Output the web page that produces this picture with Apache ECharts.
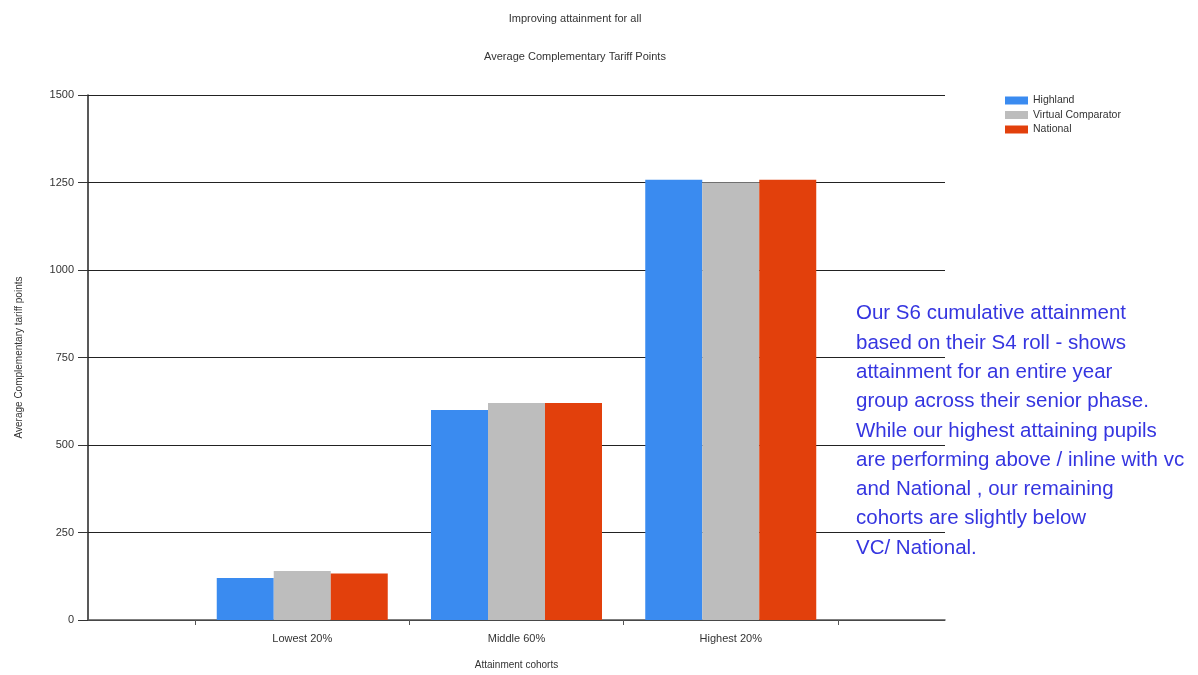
<!DOCTYPE html>
<html>
<head>
<meta charset="utf-8">
<script src="https://cdn.jsdelivr.net/npm/echarts@6/dist/echarts.min.js"></script>
<style>html,body{margin:0;padding:0;background:#fff;}#c{width:1198px;height:675px;}</style>
</head>
<body>
<div id="c"></div>
<script>
const categories = ['Lowest 20%', 'Middle 60%', 'Highest 20%'];
const highland = [120, 600, 1258];
const virtualComparator = [140, 620, 1250];
const national = [133, 620, 1258];
const yTicks = [0, 250, 500, 750, 1000, 1250, 1500];
const noteLines = [
  'Our S6 cumulative attainment',
  'based on their S4 roll - shows',
  'attainment for an entire year',
  'group across their senior phase.',
  'While our highest attaining pupils',
  'are performing above / inline with vc',
  'and National , our remaining',
  'cohorts are slightly below',
  'VC/ National.'
];

// Half-step slots so ticks fall between cohorts and half-empty slots at the ends
const slots = ['', ''];
categories.forEach(c => { slots.push(c); slots.push(''); });
slots.push('');
function spread(arr) {
  const out = [null, null];
  arr.forEach(v => { out.push(v); out.push(null); });
  out.push(null);
  return out;
}

const chart = echarts.init(document.getElementById('c'));
const font = 'Liberation Sans, Arial, sans-serif';
chart.setOption({
  animation: false,
  textStyle: { fontFamily: font },
  title: [
    { text: 'Improving attainment for all', left: 570, top: 8, textAlign: 'center',
      textStyle: { fontSize: 11, fontWeight: 'normal', color: '#333' } },
    { text: 'Average Complementary Tariff Points', left: 570, top: 46, textAlign: 'center',
      textStyle: { fontSize: 11, fontWeight: 'normal', color: '#333' } }
  ],
  legend: {
    orient: 'vertical', left: 1000, top: 90, itemWidth: 23, itemHeight: 8, itemGap: 3.5,
    icon: 'rect',
    textStyle: { fontSize: 10.5, color: '#333', fontFamily: font },
    data: ['Highland', 'Virtual Comparator', 'National']
  },
  grid: { left: 88, right: 253, top: 95, bottom: 54, containLabel: false },
  xAxis: {
    type: 'category', data: slots, boundaryGap: false,
    name: 'Attainment cohorts', nameLocation: 'middle', nameGap: 40,
    nameTextStyle: { fontSize: 10, color: '#333' },
    axisLine: { lineStyle: { color: '#555', width: 1.5 } },
    axisTick: { show: true, length: 5, interval: i => i % 2 === 1, lineStyle: { color: '#555' } },
    axisLabel: { interval: 0, fontSize: 11, color: '#333', margin: 13 },
    splitLine: { show: false }
  },
  yAxis: {
    type: 'value', min: 0, max: 1500, interval: 250,
    name: 'Average Complementary tariff points', nameLocation: 'middle', nameGap: 64,
    nameTextStyle: { fontSize: 10, color: '#333' },
    axisLine: { show: true, lineStyle: { color: '#222', width: 1.5 } },
    axisTick: { show: true, length: 10, lineStyle: { color: '#333' } },
    axisLabel: { fontSize: 11, color: '#333', margin: 14,
      formatter: v => yTicks.includes(v) ? String(v) : '' },
    splitLine: { show: true, lineStyle: { color: '#222', width: 1.2 } }
  },
  series: [
    { name: 'Highland', type: 'bar', data: spread(highland), barWidth: 57, barGap: '0%',
      itemStyle: { color: '#3a8bf0' } },
    { name: 'Virtual Comparator', type: 'bar', data: spread(virtualComparator), barWidth: 57, barGap: '0%',
      itemStyle: { color: '#bdbdbd' } },
    { name: 'National', type: 'bar', data: spread(national), barWidth: 57, barGap: '0%',
      itemStyle: { color: '#e2400c' } }
  ],
  graphic: [{
    type: 'text', left: 856, top: 299, z: 100,
    style: { text: noteLines.join('\n'), fill: '#3535e0', font: '20.5px ' + font, lineHeight: 29.3 }
  }]
});
</script>
</body>
</html>
